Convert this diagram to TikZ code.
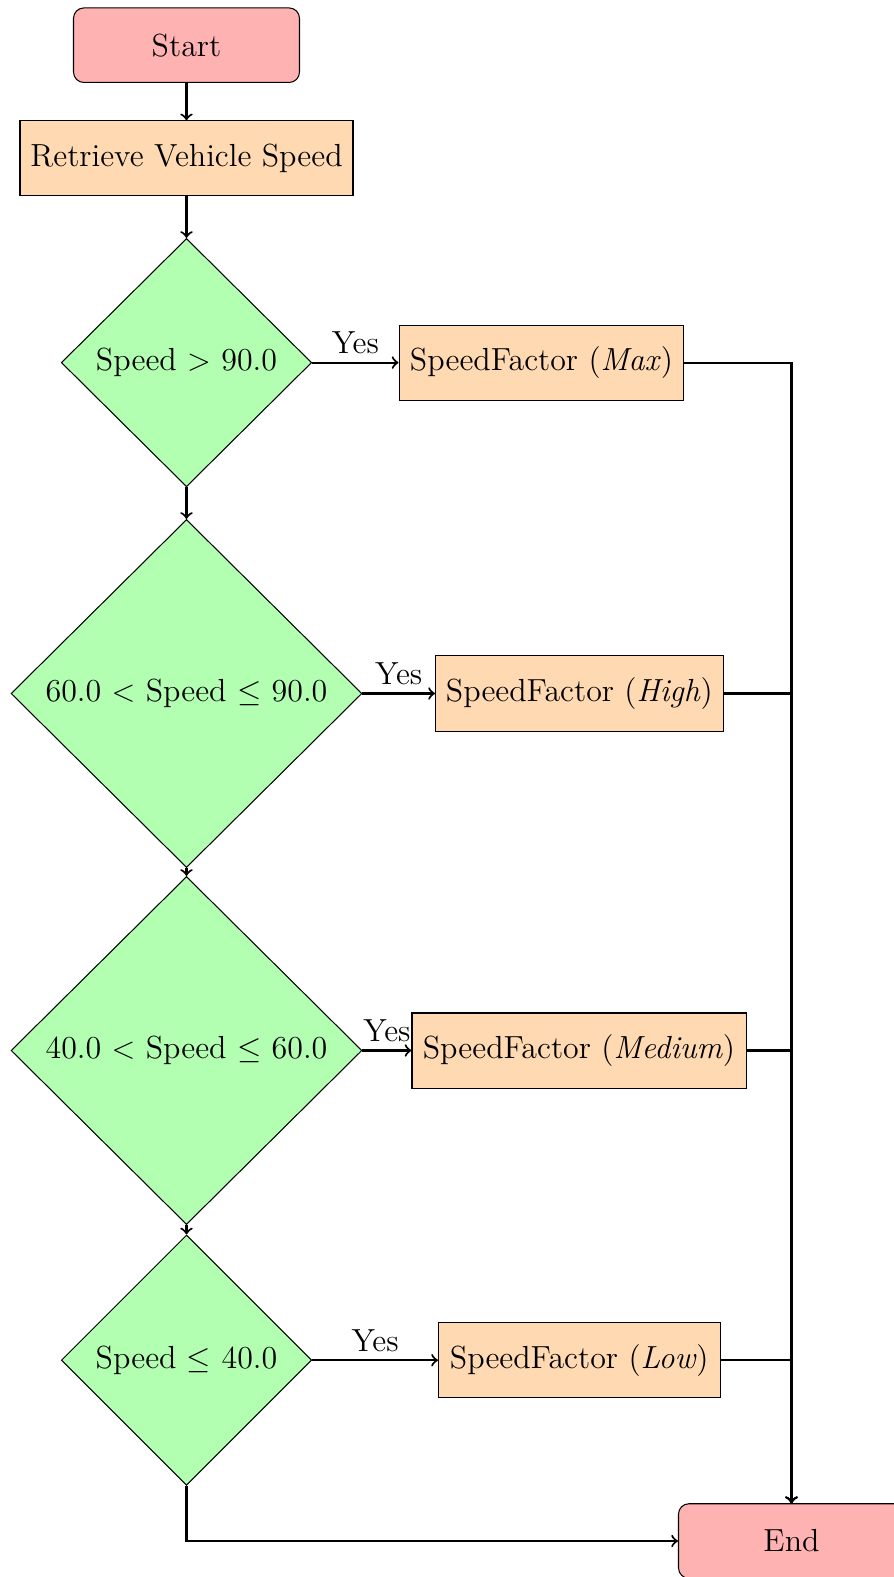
\documentclass[tikz,border=0pt]{standalone}
\usetikzlibrary{shapes.geometric}
\begin{document}
\begin{tikzpicture}[x=0.385pt,y=-0.385pt, font=\fontsize{12.3pt}{14.8pt}\selectfont,
  term/.style={draw, fill=red!30, rounded corners=4pt, minimum width=87pt, minimum height=28.7pt, inner sep=2pt},
  proc/.style={draw, fill=orange!30, minimum height=28.9pt, inner xsep=2pt},
  dec/.style={draw, fill=green!30, diamond, inner sep=0pt},
  arr/.style={->, thick},
  yes/.style={midway, above, inner sep=3pt}]
\useasboundingbox (0,0) rectangle (894,1577);
\node[term] (start) at (186.5,45.2) {Start};
\node[proc, minimum width=128.2pt] (ret) at (186.5,158.4) {Retrieve Vehicle Speed};
\node[dec, minimum width=96.4pt, minimum height=95.6pt] (d1) at (186.5,362.6) {Speed $>$ 90.0};
\node[dec, minimum width=135.1pt, minimum height=134pt] (d2) at (186.5,693.5) {60.0 $<$ Speed $\leq$ 90.0};
\node[dec, minimum width=135.1pt, minimum height=134pt] (d3) at (186.5,1050.5) {40.0 $<$ Speed $\leq$ 60.0};
\node[dec, minimum width=96.4pt, minimum height=96.4pt] (d4) at (186.5,1360.2) {Speed $\leq$ 40.0};
\node[proc, minimum width=109.7pt] (max) at (541.5,362.6) {SpeedFactor (\textit{Max})};
\node[proc, minimum width=110.7pt] (high) at (579.3,693.5) {SpeedFactor (\textit{High})};
\node[proc, minimum width=128.6pt] (med) at (579,1050.5) {SpeedFactor (\textit{Medium})};
\node[proc, minimum width=108.4pt] (low) at (579.3,1360.2) {SpeedFactor (\textit{Low})};
\node[term] (end) at (791.5,1541) {End};
\draw[arr] (start) -- (ret);
\draw[arr] (ret) -- (d1);
\draw[arr] (d1) -- (d2);
\draw[arr] (d2) -- (d3);
\draw[arr] (d3) -- (d4);
\draw[arr] (d1) -- node[yes] {Yes} (max);
\draw[arr] (d2) -- node[yes] {Yes} (high);
\draw[arr] (d3) -- node[yes] {Yes} (med);
\draw[arr] (d4) -- node[yes] {Yes} (low);
\draw[arr] (max) -| (end);
\draw[arr] (high) -| (end);
\draw[arr] (med) -| (end);
\draw[arr] (low) -| (end);
\draw[arr] (d4) |- (end);
\end{tikzpicture}
\end{document}
